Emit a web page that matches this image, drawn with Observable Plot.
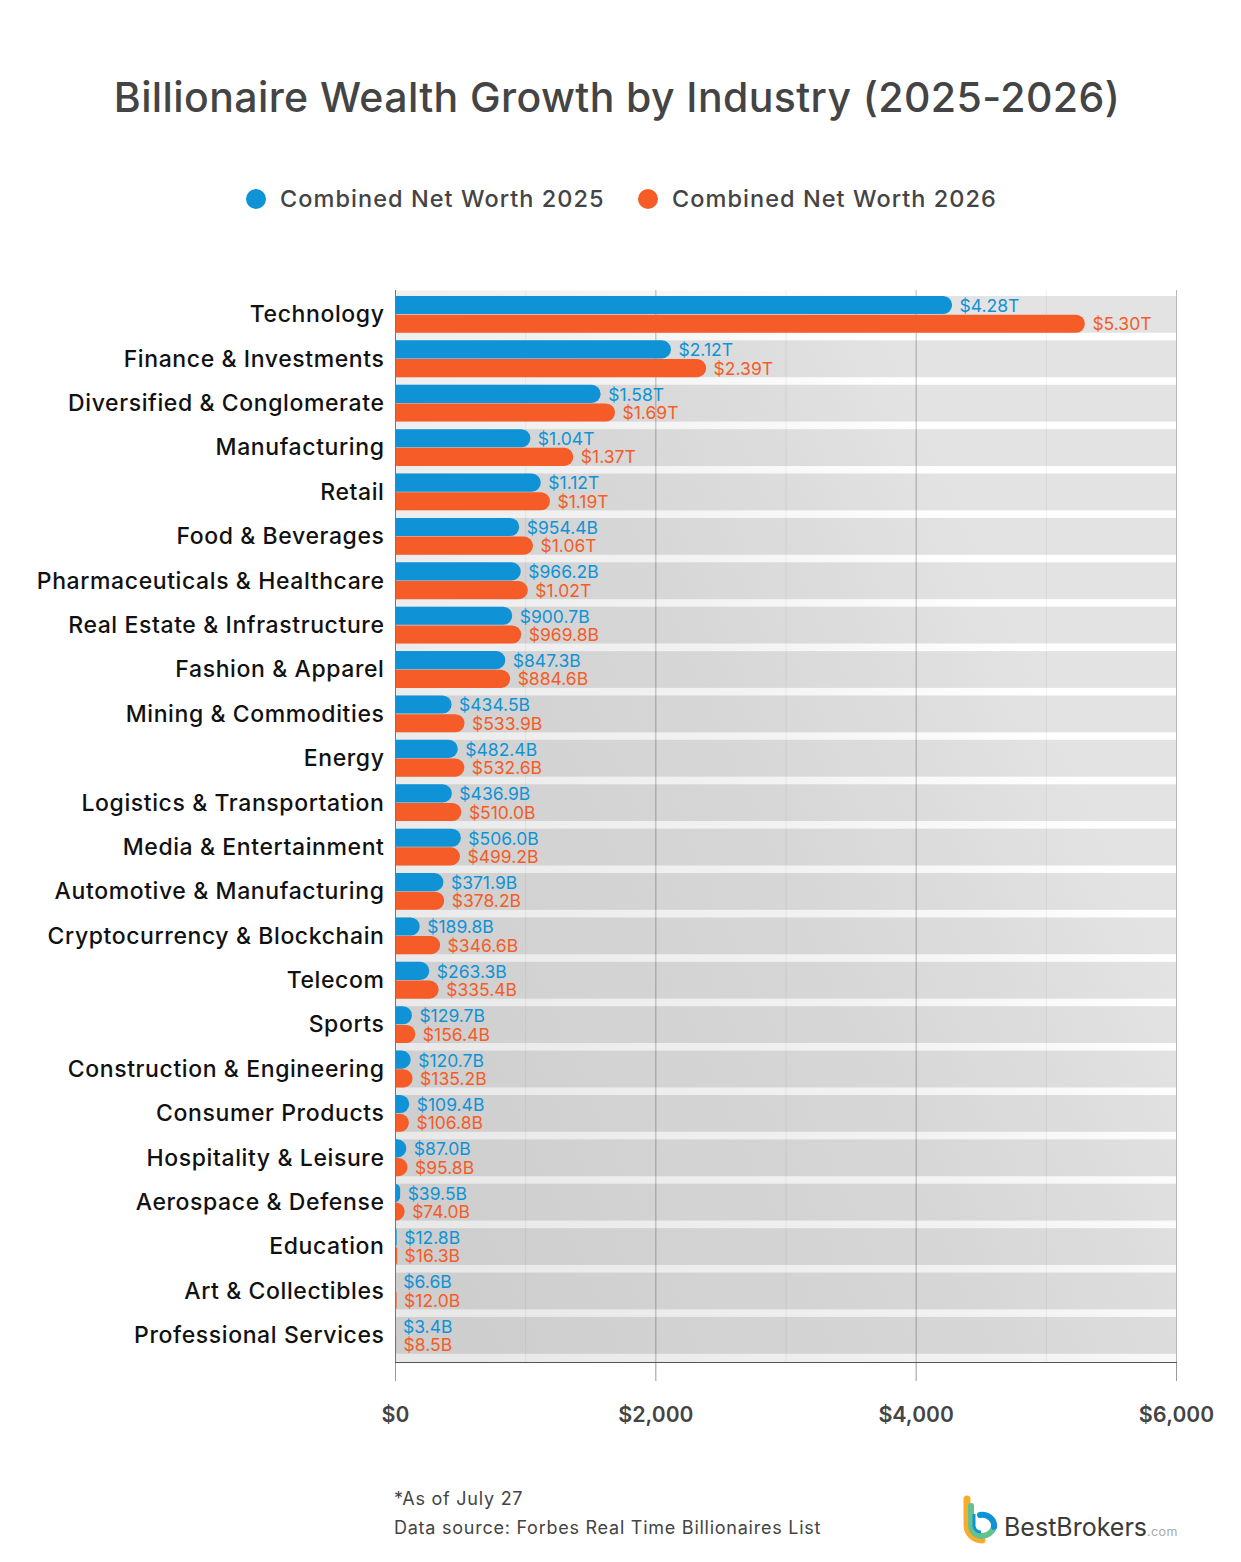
<!DOCTYPE html>
<html><head><meta charset="utf-8">
<script src="https://cdn.jsdelivr.net/npm/d3@7"></script>
<script src="https://cdn.jsdelivr.net/npm/@observablehq/plot@0.6"></script>
<style>
html,body{margin:0;padding:0;background:#fff;}
body{width:1241px;height:1562px;position:relative;overflow:hidden;font-family:"Inter",sans-serif;}
#title{position:absolute;left:0;width:1234px;top:70px;text-align:center;font-size:41px;font-weight:500;color:#444;line-height:54px;letter-spacing:0.39px;white-space:nowrap;}
#legend{position:absolute;top:184px;left:246px;height:30px;font-size:23.5px;font-weight:500;color:#444;line-height:30px;white-space:nowrap;letter-spacing:1.05px;}
#legend i{position:absolute;top:5px;width:20px;height:20px;border-radius:50%;}
#legend span{position:absolute;top:0;}
#chart{position:absolute;left:0;top:250px;}
#note{position:absolute;left:394px;top:1484px;font-size:18px;line-height:29px;color:#444;white-space:nowrap;letter-spacing:.75px;}
#logo{position:absolute;left:960px;top:1492px;}
#brand{position:absolute;left:1004px;top:1510px;font-size:25px;color:#3a3a3a;line-height:34px;white-space:nowrap;}
#brand small{font-size:12.5px;color:#aaa;letter-spacing:.4px;}
svg text{font-family:"Inter",sans-serif;}
g[aria-label="y-axis tick label"] text{letter-spacing:.6px;}
</style></head><body>
<div id="title">Billionaire Wealth Growth by Industry (2025-2026)</div>
<div id="legend"><i style="left:0;background:#0f93d6"></i><span style="left:34px">Combined Net Worth 2025</span><i style="left:392px;background:#f55c27"></i><span style="left:426px">Combined Net Worth 2026</span></div>
<div id="chart"></div>
<div id="note">*As of July 27<br>Data source: Forbes Real Time Billionaires List</div>
<svg id="logo" width="42" height="56" viewBox="0 0 42 56"><path d="M7 7V33A15 15 0 0 0 22 48" fill="none" stroke="#fbab2b" stroke-width="7" stroke-linecap="round"/><path d="M11 14V33a11 11 0 0 0 11 11a13 13 0 0 0 12-9" fill="none" stroke="#62c391" stroke-width="6" stroke-linecap="round"/><path d="M14 22V34a7 7 0 0 0 7 6" fill="none" stroke="#0f93d6" stroke-width="3"/><path d="M20 23a12 11 0 0 1 14 12" fill="none" stroke="#0f93d6" stroke-width="6" stroke-linecap="round"/></svg>
<div id="brand">BestBrokers<small>.com</small></div>
<script>
const categories = ["Technology","Finance & Investments","Diversified & Conglomerate","Manufacturing","Retail","Food & Beverages","Pharmaceuticals & Healthcare","Real Estate & Infrastructure","Fashion & Apparel","Mining & Commodities","Energy","Logistics & Transportation","Media & Entertainment","Automotive & Manufacturing","Cryptocurrency & Blockchain","Telecom","Sports","Construction & Engineering","Consumer Products","Hospitality & Leisure","Aerospace & Defense","Education","Art & Collectibles","Professional Services"];
const worth2025 = [4280,2120,1580,1040,1120,954.4,966.2,900.7,847.3,434.5,482.4,436.9,506.0,371.9,189.8,263.3,129.7,120.7,109.4,87.0,39.5,12.8,6.6,3.4];
const worth2026 = [5300,2390,1690,1370,1190,1060,1020,969.8,884.6,533.9,532.6,510.0,499.2,378.2,346.6,335.4,156.4,135.2,106.8,95.8,74.0,16.3,12.0,8.5];
const labels2025 = ["$4.28T","$2.12T","$1.58T","$1.04T","$1.12T","$954.4B","$966.2B","$900.7B","$847.3B","$434.5B","$482.4B","$436.9B","$506.0B","$371.9B","$189.8B","$263.3B","$129.7B","$120.7B","$109.4B","$87.0B","$39.5B","$12.8B","$6.6B","$3.4B"];
const labels2026 = ["$5.30T","$2.39T","$1.69T","$1.37T","$1.19T","$1.06T","$1.02T","$969.8B","$884.6B","$533.9B","$532.6B","$510.0B","$499.2B","$378.2B","$346.6B","$335.4B","$156.4B","$135.2B","$106.8B","$95.8B","$74.0B","$16.3B","$12.0B","$8.5B"];
const xTicks = [0,2000,4000,6000];
const minorTicks = [1000,3000,5000];
const blue = "#0f93d6", orange = "#f55c27";
const d25 = categories.map((c,i)=>({c,v:worth2025[i],t:labels2025[i]}));
const d26 = categories.map((c,i)=>({c,v:worth2026[i],t:labels2026[i]}));
const half = 18.4;
const plot = Plot.plot({
  width:1241, height:1190, marginLeft:395, marginRight:65, marginTop:40, marginBottom:78,
  x:{domain:[0,6000]},
  y:{domain:categories, paddingInner:0.17, paddingOuter:0.16, align:0.42, round:false},
  marks:[
    Plot.frame({fill:"url(#bgGrad)", stroke:"none"}),
    Plot.barX(categories,{y:d=>d, x1:0, x2:6000, fill:"#000", fillOpacity:0.108}),
    Plot.ruleX(minorTicks,{stroke:"#000", strokeOpacity:0.06}),
    Plot.ruleX(xTicks,{stroke:"#000", strokeOpacity:0.28}),
    Plot.barX(d25,{y:"c", x1:0, x2:"v", fill:blue, insetBottom:half+0.3, rx2:9}),
    Plot.barX(d26,{y:"c", x1:0, x2:"v", fill:orange, insetTop:half+0.3, rx2:9}),
    Plot.text(d25,{y:"c", x:"v", text:"t", fill:blue, dx:7, dy:-8.6, textAnchor:"start", fontSize:17.5}),
    Plot.text(d26,{y:"c", x:"v", text:"t", fill:orange, dx:7, dy:9.8, textAnchor:"start", fontSize:17.5}),
    Plot.axisY({tickSize:0, tickPadding:11, fontSize:23, fontWeight:500, label:null, color:"#111", marginLeft:395}),
    Plot.axisX({ticks:xTicks, tickSize:19, tickPadding:25, fontSize:21.5, fontWeight:600, tickFormat:d3.format("$,"), label:null, color:"#444", stroke:"#999"}),
    Plot.frame({anchor:"bottom", stroke:"#555"}),
    Plot.ruleX([0],{stroke:"#777"})
  ]
});
d3.select(plot).style("background","none").style("overflow","visible");
const defs = d3.select(plot).insert("defs",":first-child");
defs.html(`<linearGradient id="bgGrad" x1="0" y1="0.8" x2="1" y2="0.2"><stop offset="0" stop-color="#e8e8e8"/><stop offset="0.5" stop-color="#f2f2f2"/><stop offset="0.8" stop-color="#ffffff"/></linearGradient>`);
document.getElementById("chart").append(plot);
</script>
</body></html>
